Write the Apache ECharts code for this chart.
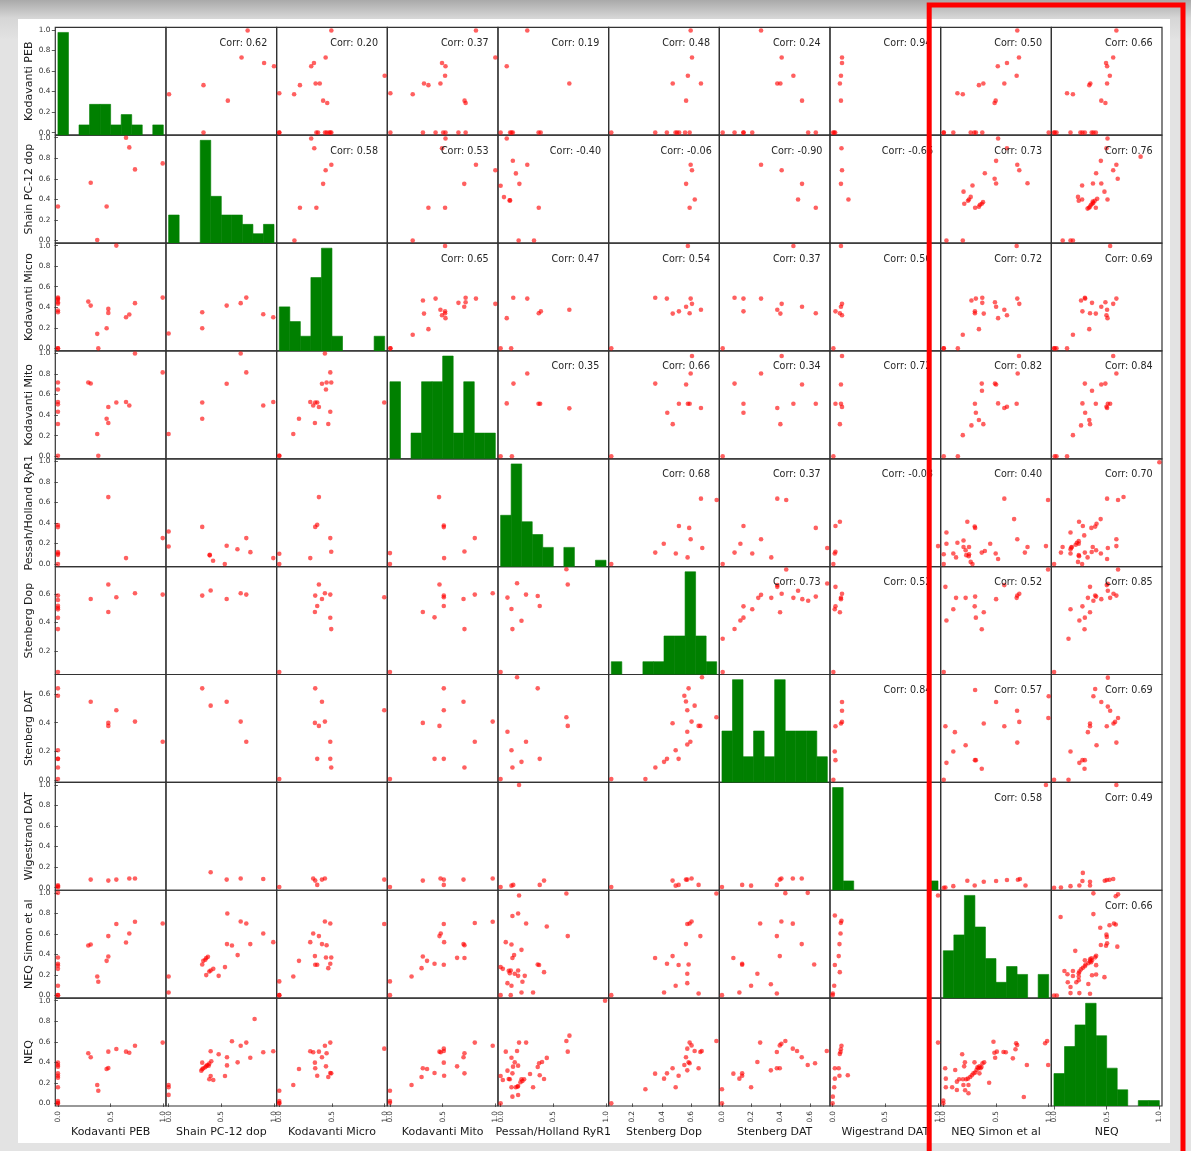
<!DOCTYPE html>
<html>
<head>
<meta charset="utf-8">
<script src="https://cdn.jsdelivr.net/npm/echarts@6/dist/echarts.min.js"></script>
<style>
  html, body { margin: 0; padding: 0; }
  body {
    width: 1191px; height: 1151px; overflow: hidden; position: relative;
    background: linear-gradient(to bottom, #a9a9a9 0px, #d6d6d6 18px, #e3e3e3 40px, #e3e3e3 100%);
  }
  #panel { position: absolute; left: 18px; top: 19px; width: 1152px; height: 1124px; background: #ffffff; }
  #chart { position: absolute; left: 0; top: 0; width: 1191px; height: 1151px; }
</style>
</head>
<body>
<div id="panel"></div>
<div id="chart"></div>
<script>
// ---- variables of the scatter matrix ----
const varNames = ['Kodavanti PEB', 'Shain PC-12 dop', 'Kodavanti Micro', 'Kodavanti Mito',
  'Pessah/Holland RyR1', 'Stenberg Dop', 'Stenberg DAT', 'Wigestrand DAT', 'NEQ Simon et al', 'NEQ'];
const varMin = [0, 0, 0, 0, 0, 0.055, 0, 0, 0, 0];
const varMax = [1, 1, 1, 1, 1, 0.772, 0.72, 1, 1, 1];

// tick labels
const ticksUnitY = [0, 0.2, 0.4, 0.6, 0.8, 1.0];
const ticksUnitX = [0, 0.5, 1.0];
const ticksStDop = [0.2, 0.4, 0.6];
const ticksStDat = [0, 0.2, 0.4, 0.6];

// histogram counts (10 equal bins between each variable's min and max)
const histPeb = [10, 0, 1, 3, 3, 1, 2, 1, 0, 1];
const histShain = [3, 0, 0, 11, 5, 3, 3, 2, 1, 2];
const histMicro = [3, 2, 1, 5, 7, 1, 0, 0, 0, 1];
const histMito = [3, 0, 1, 3, 3, 4, 1, 3, 1, 1];
const histPessah = [8, 16, 7, 5, 3, 0, 3, 0, 0, 1];
const histStDop = [1, 0, 0, 1, 1, 3, 3, 8, 3, 1];
const histStDat = [2, 4, 1, 2, 1, 4, 2, 2, 2, 1];
const histWige = [11, 1, 0, 0, 0, 0, 0, 0, 0, 1];
const histNeqS = [6, 8, 13, 9, 5, 2, 4, 3, 0, 3];
const histNeq = [6, 11, 15, 19, 13, 7, 3, 0, 1, 1];

// pairwise correlations, upper triangle, one array per row
const corrRow0 = [0.62, 0.20, 0.37, 0.19, 0.48, 0.24, 0.94, 0.50, 0.66];
const corrRow1 = [0.58, 0.53, -0.40, -0.06, -0.90, -0.66, 0.73, 0.76];
const corrRow2 = [0.65, 0.47, 0.54, 0.37, 0.56, 0.72, 0.69];
const corrRow3 = [0.35, 0.66, 0.34, 0.72, 0.82, 0.84];
const corrRow4 = [0.68, 0.37, -0.03, 0.40, 0.70];
const corrRow5 = [0.73, 0.52, 0.52, 0.85];
const corrRow6 = [0.84, 0.57, 0.69];
const corrRow7 = [0.58, 0.49];
const corrRow8 = [0.66];

// pairwise observations [first variable, second variable]
const pebShain = [[0.646,1.0],[0.677,0.906],[0.731,0.692],[0.994,0.75],[0.311,0.562],[0.462,0.331],[0,0.331],[0.373,0.004]];
const pebMicro = [[0,0.494],[0,0.484],[0,0.472],[0,0.449],[0,0.434],[0,0.368],[0,0.352],[0,0],[0,0],[0.288,0.455],[0.311,0.416],[0.373,0.141],[0.462,0.196],[0.478,0.384],[0.478,0.345],[0.383,0],[0.646,0.303],[0.677,0.329],[0.731,0.44],[0.994,0.494],[0.554,1.0]];
const pebMito = [[0,0.718],[0,0.65],[0,0.527],[0,0.505],[0,0.433],[0,0.313],[0,0.004],[0.288,0.718],[0.311,0.708],[0.462,0.365],[0.478,0.323],[0.478,0.479],[0.373,0.216],[0.383,0.004],[0.554,0.523],[0.646,0.527],[0.677,0.494],[0.731,1.0],[0.994,0.816]];
const pebPessah = [[0,0.38],[0,0.36],[0,0.116],[0,0.103],[0,0.09],[0,0],[0.478,0.652],[0.646,0.058],[0.994,0.253]];
const pebStDop = [[0,0.588],[0,0.557],[0,0.517],[0,0.503],[0,0.492],[0,0.433],[0,0.354],[0,0.055],[0.311,0.564],[0.478,0.665],[0.478,0.473],[0.554,0.576],[0.731,0.604],[0.994,0.595]];
const pebStDat = [[0,0.641],[0,0.589],[0,0.207],[0,0.147],[0,0.147],[0,0.086],[0,0.005],[0.311,0.547],[0.478,0.399],[0.478,0.378],[0.554,0.488],[0.731,0.408],[0.994,0.267]];
const pebWige = [[0,0.024],[0,0.014],[0,0.004],[0.311,0.079],[0.478,0.069],[0.554,0.079],[0.677,0.089],[0.731,0.089]];
const pebNeqS = [[0,1.0],[0,0.37],[0,0.309],[0,0.293],[0,0.26],[0,0.095],[0,0.004],[0,0.004],[0.288,0.487],[0.311,0.497],[0.373,0.185],[0.383,0.134],[0.462,0.338],[0.478,0.38],[0.478,0.579],[0.554,0.696],[0.646,0.517],[0.677,0.604],[0.731,0.718],[0.994,0.702]];
const pebNeq = [[0,0.397],[0,0.374],[0,0.358],[0,0.293],[0,0.27],[0,0.251],[0,0.157],[0,0.024],[0,0.007],[0,0.0],[0.288,0.488],[0.311,0.449],[0.373,0.18],[0.383,0.124],[0.462,0.335],[0.478,0.345],[0.478,0.504],[0.554,0.53],[0.646,0.504],[0.677,0.494],[0.731,0.562],[0.994,0.592]];

const shainMicro = [[0,0.144],[0.319,0.352],[0.319,0.196],[0.551,0.416],[0.684,0.44],[0.737,0.494],[0.898,0.332],[0.993,0.303]];
const shainMito = [[0,0.216],[0.319,0.523],[0.319,0.365],[0.551,0.705],[0.684,1.0],[0.737,0.816],[0.898,0.494],[0.993,0.527]];
const shainPessah = [[0,0.317],[0,0.171],[0.319,0.362],[0.39,0.09],[0.39,0.085],[0.422,0.032],[0.533,0.0],[0.551,0.178],[0.653,0.145],[0.737,0.253],[0.776,0.116],[0.993,0.058]];
const shainStDop = [[0.319,0.588],[0.399,0.623],[0.551,0.564],[0.684,0.604],[0.737,0.595]];
const shainStDat = [[0.319,0.641],[0.399,0.52],[0.551,0.547],[0.684,0.408],[0.737,0.267]];
const shainWige = [[0.399,0.15],[0.551,0.079],[0.684,0.089],[0.898,0.084]];
const shainNeqS = [[0,0.185],[0,0.03],[0.319,0.302],[0.329,0.338],[0.348,0.348],[0.357,0.365],[0.373,0.377],[0.357,0.199],[0.386,0.234],[0.399,0.244],[0.424,0.26],[0.475,0.192],[0.535,0.277],[0.554,0.501],[0.557,0.799],[0.601,0.487],[0.655,0.394],[0.684,0.721],[0.737,0.702],[0.775,0.501],[0.898,0.604],[0.993,0.52]];
const shainNeq = [[0,0.18],[0,0.157],[0,0.083],[0.319,0.397],[0.31,0.319],[0.319,0.332],[0.329,0.342],[0.348,0.352],[0.357,0.365],[0.367,0.374],[0.386,0.387],[0.38,0.368],[0.399,0.508],[0.405,0.41],[0.386,0.235],[0.399,0.267],[0.424,0.228],[0.475,0.479],[0.535,0.267],[0.554,0.449],[0.554,0.37],[0.601,0.605],[0.655,0.4],[0.684,0.562],[0.737,0.592],[0.775,0.445],[0.816,0.822],[0.898,0.498],[0.993,0.508]];

const microMito = [[0,0.004],[0,0.004],[0.133,0.216],[0.187,0.365],[0.294,0.527],[0.322,0.494],[0.341,0.523],[0.36,0.523],[0.376,0.479],[0.338,0.323],[0.405,0.705],[0.433,1.0],[0.443,0.65],[0.465,0.313],[0.484,0.816],[0.484,0.433],[0.493,0.718],[0.449,0.718],[0.996,0.523]];
const microPessah = [[0,0.1],[0,0.0],[0.294,0.058],[0.341,0.362],[0.36,0.382],[0.376,0.652],[0.484,0.253],[0.493,0.12]];
const microStDop = [[0,0.055],[0.341,0.588],[0.36,0.515],[0.338,0.473],[0.376,0.665],[0.405,0.564],[0.433,0.604],[0.484,0.595],[0.484,0.433],[0.493,0.354],[0.996,0.576]];
const microStDat = [[0,0.005],[0.341,0.641],[0.338,0.399],[0.376,0.378],[0.405,0.547],[0.433,0.408],[0.36,0.147],[0.484,0.267],[0.484,0.147],[0.493,0.086],[0.996,0.488]];
const microWige = [[0,0.007],[0.322,0.089],[0.341,0.069],[0.36,0.027],[0.405,0.079],[0.433,0.089],[0.996,0.079]];
const microNeqS = [[0,0.138],[0,0.004],[0,0.004],[0.133,0.185],[0.187,0.338],[0.294,0.52],[0.322,0.604],[0.338,0.384],[0.341,0.3],[0.36,0.3],[0.376,0.579],[0.405,0.501],[0.433,0.721],[0.443,0.37],[0.449,0.49],[0.465,0.267],[0.484,0.702],[0.484,0.309],[0.493,0.37],[0.996,0.696]];
const microNeq = [[0,0.124],[0,0.024],[0,0.007],[0,0.0],[0.133,0.18],[0.187,0.335],[0.294,0.508],[0.322,0.498],[0.338,0.397],[0.341,0.342],[0.36,0.27],[0.376,0.504],[0.405,0.449],[0.433,0.562],[0.443,0.361],[0.449,0.488],[0.465,0.257],[0.484,0.592],[0.484,0.296],[0.493,0.293],[0.996,0.533]];

const mitoPessah = [[0,0.107],[0,0.0],[0.466,0.652],[0.511,0.375],[0.511,0.36],[0.805,0.253],[0.707,0.122],[0.514,0.058]];
const mitoStDop = [[0,0.055],[0.312,0.473],[0.423,0.436],[0.47,0.665],[0.511,0.588],[0.511,0.576],[0.511,0.515],[0.698,0.564],[0.707,0.354],[0.805,0.595],[0.975,0.604]];
const mitoStDat = [[0,0.005],[0.312,0.399],[0.423,0.147],[0.47,0.378],[0.511,0.641],[0.511,0.488],[0.511,0.147],[0.698,0.547],[0.707,0.086],[0.805,0.267],[0.975,0.408]];
const mitoWige = [[0,0.007],[0.312,0.069],[0.48,0.089],[0.511,0.079],[0.511,0.027],[0.698,0.079],[0.975,0.089]];
const mitoNeqS = [[0,0.138],[0,0.004],[0.205,0.185],[0.3,0.267],[0.312,0.38],[0.352,0.338],[0.423,0.309],[0.47,0.579],[0.482,0.604],[0.511,0.696],[0.514,0.52],[0.511,0.3],[0.637,0.367],[0.698,0.501],[0.707,0.49],[0.707,0.365],[0.805,0.706],[0.975,0.718]];
const mitoNeq = [[0,0.124],[0,0.024],[0,0.007],[0.205,0.18],[0.3,0.257],[0.312,0.342],[0.352,0.335],[0.423,0.296],[0.47,0.504],[0.482,0.498],[0.511,0.533],[0.511,0.511],[0.511,0.397],[0.514,0.27],[0.637,0.361],[0.698,0.449],[0.707,0.488],[0.707,0.293],[0.805,0.592],[0.975,0.562]];

const pessahStDop = [[0,0.055],[0.065,0.574],[0.103,0.494],[0.112,0.354],[0.156,0.674],[0.198,0.412],[0.241,0.595],[0.352,0.585],[0.371,0.515],[0.637,0.665],[0.624,0.772]];
const pessahStDat = [[0,0.005],[0.065,0.337],[0.103,0.207],[0.112,0.086],[0.156,0.719],[0.198,0.126],[0.241,0.267],[0.352,0.641],[0.371,0.147],[0.624,0.439],[0.637,0.378]];
const pessahWige = [[0,0.007],[0.103,0.02],[0.12,0.027],[0.371,0.027],[0.412,0.069],[0.175,1.0]];
const pessahNeqS = [[0,0.277],[0,0.004],[0.021,0.26],[0.049,0.52],[0.065,0.121],[0.077,0.241],[0.087,0.218],[0.096,0.244],[0.103,0.497],[0.103,0.095],[0.096,0.004],[0.112,0.365],[0.112,0.774],[0.128,0.394],[0.134,0.212],[0.166,0.799],[0.166,0.244],[0.175,0.974],[0.166,0.192],[0.198,0.445],[0.207,0.134],[0.198,0.03],[0.229,0.192],[0.242,0.702],[0.308,0.03],[0.352,0.302],[0.365,0.298],[0.412,0.228],[0.438,0.672],[0.624,0.994],[0.637,0.579]];
const pessahNeq = [[0,0.267],[0,0.001],[0.021,0.228],[0.049,0.504],[0.065,0.319],[0.077,0.238],[0.087,0.235],[0.103,0.445],[0.112,0.293],[0.103,0.157],[0.112,0.066],[0.118,0.358],[0.134,0.4],[0.144,0.157],[0.16,0.163],[0.166,0.17],[0.166,0.082],[0.175,0.592],[0.156,0.511],[0.166,0.368],[0.188,0.206],[0.198,0.235],[0.207,0.218],[0.223,0.235],[0.242,0.592],[0.279,0.287],[0.308,0.157],[0.352,0.355],[0.365,0.391],[0.371,0.274],[0.412,0.238],[0.393,0.404],[0.438,0.443],[0.624,0.608],[0.637,0.504],[0.653,0.66],[0.991,1.0]];

const stDopStDat = [[0.055,0.005],[0.287,0.005],[0.355,0.086],[0.414,0.126],[0.434,0.147],[0.472,0.397],[0.493,0.207],[0.513,0.147],[0.552,0.589],[0.563,0.549],[0.572,0.488],[0.572,0.337],[0.572,0.248],[0.581,0.641],[0.593,0.267],[0.601,0.408],[0.622,0.52],[0.649,0.378],[0.661,0.378],[0.672,0.719],[0.77,0.439]];
const stDopWige = [[0.055,0.007],[0.472,0.069],[0.493,0.02],[0.513,0.027],[0.563,0.079],[0.572,0.079],[0.601,0.089],[0.649,0.027]];
const stDopNeqS = [[0.055,0.004],[0.353,0.365],[0.414,0.03],[0.434,0.309],[0.472,0.384],[0.493,0.095],[0.513,0.298],[0.563,0.501],[0.572,0.696],[0.572,0.212],[0.572,0.121],[0.581,0.302],[0.588,0.702],[0.601,0.721],[0.649,0.02],[0.661,0.579],[0.77,0.994]];
const stDopNeq = [[0.055,0.001],[0.287,0.138],[0.353,0.29],[0.414,0.241],[0.434,0.293],[0.472,0.342],[0.493,0.157],[0.513,0.27],[0.552,0.374],[0.563,0.449],[0.572,0.533],[0.572,0.322],[0.581,0.4],[0.588,0.391],[0.588,0.592],[0.601,0.565],[0.622,0.511],[0.649,0.342],[0.661,0.501],[0.67,0.511],[0.77,0.608]];

const stDatWige = [[0,0.007],[0.138,0.027],[0.199,0.02],[0.375,0.027],[0.395,0.079],[0.406,0.089],[0.484,0.089],[0.545,0.089]];
const stDatNeqS = [[0,0.004],[0.078,0.365],[0.119,0.03],[0.138,0.309],[0.138,0.3],[0.199,0.095],[0.242,0.212],[0.261,0.702],[0.334,0.11],[0.375,0.579],[0.375,0.02],[0.395,0.384],[0.406,0.721],[0.433,0.997],[0.484,0.7],[0.545,0.501],[0.586,1.0],[0.63,0.302]];
const stDatNeq = [[0,0.138],[0,0.001],[0.078,0.29],[0.119,0.241],[0.138,0.293],[0.138,0.27],[0.199,0.157],[0.242,0.404],[0.261,0.592],[0.334,0.322],[0.375,0.501],[0.375,0.342],[0.395,0.342],[0.395,0.565],[0.406,0.58],[0.433,0.608],[0.484,0.533],[0.513,0.511],[0.545,0.449],[0.586,0.374],[0.636,0.391],[0.716,0.511]];

const wigeNeqS = [[0,0.004],[0.002,0.02],[0.015,0.095],[0.021,0.298],[0.021,0.78],[0.058,0.384],[0.065,0.501],[0.075,0.604],[0.078,0.708],[0.084,0.727],[0.068,0.228],[1.0,0.974]];
const wigeNeq = [[0,0.001],[0.002,0.066],[0.015,0.157],[0.021,0.241],[0.021,0.342],[0.058,0.342],[0.065,0.27],[0.075,0.501],[0.078,0.527],[0.084,0.562],[0.068,0.482],[0.144,0.274],[1.0,0.592]];

const neqSNeq = [[0,0.027],[0,0.001],[0.018,0.342],[0.024,0.241],[0.024,0.157],[0.084,0.157],[0.113,0.326],[0.129,0.212],[0.129,0.131],[0.15,0.235],[0.179,0.479],[0.191,0.18],[0.198,0.361],[0.207,0.128],[0.217,0.235],[0.233,0.241],[0.239,0.18],[0.239,0.099],[0.186,0.235],[0.205,0.4],[0.255,0.257],[0.271,0.274],[0.286,0.293],[0.296,0.4],[0.302,0.3],[0.315,0.326],[0.324,0.352],[0.334,0.342],[0.343,0.361],[0.353,0.342],[0.362,0.355],[0.372,0.391],[0.388,0.4],[0.343,0.293],[0.435,0.202],[0.476,0.601],[0.485,0.494],[0.492,0.445],[0.508,0.504],[0.571,0.501],[0.593,0.498],[0.66,0.439],[0.685,0.527],[0.691,0.586],[0.701,0.569],[0.764,0.063],[0.793,0.374],[0.966,0.586],[0.985,0.608],[0.995,0.374]];

// ---- lookup tables built from the arrays above ----
const hists = [histPeb, histShain, histMicro, histMito, histPessah, histStDop, histStDat, histWige, histNeqS, histNeq];
const corrRows = [corrRow0, corrRow1, corrRow2, corrRow3, corrRow4, corrRow5, corrRow6, corrRow7, corrRow8];
const pairTable = {
  '0-1': pebShain, '0-2': pebMicro, '0-3': pebMito, '0-4': pebPessah, '0-5': pebStDop, '0-6': pebStDat, '0-7': pebWige, '0-8': pebNeqS, '0-9': pebNeq,
  '1-2': shainMicro, '1-3': shainMito, '1-4': shainPessah, '1-5': shainStDop, '1-6': shainStDat, '1-7': shainWige, '1-8': shainNeqS, '1-9': shainNeq,
  '2-3': microMito, '2-4': microPessah, '2-5': microStDop, '2-6': microStDat, '2-7': microWige, '2-8': microNeqS, '2-9': microNeq,
  '3-4': mitoPessah, '3-5': mitoStDop, '3-6': mitoStDat, '3-7': mitoWige, '3-8': mitoNeqS, '3-9': mitoNeq,
  '4-5': pessahStDop, '4-6': pessahStDat, '4-7': pessahWige, '4-8': pessahNeqS, '4-9': pessahNeq,
  '5-6': stDopStDat, '5-7': stDopWige, '5-8': stDopNeqS, '5-9': stDopNeq,
  '6-7': stDatWige, '6-8': stDatNeqS, '6-9': stDatNeq,
  '7-8': wigeNeqS, '7-9': wigeNeq,
  '8-9': neqSNeq
};

// ---- layout ----
const N = varNames.length;
const LEFT0 = 55.3, TOP0 = 27.3, CELL_W = 110.67, CELL_H = 107.87;
const FONT = '"DejaVu Sans", "Liberation Sans", sans-serif';

function paddedRange(k) {
  const d = (varMax[k] - varMin[k]) * 0.025;
  return [varMin[k] - d, varMax[k] + d];
}
function yTicksFor(k) { return k === 5 ? ticksStDop : (k === 6 ? ticksStDat : ticksUnitY); }
function xTicksFor(k) { return k === 5 ? ticksStDop : (k === 6 ? ticksStDat : ticksUnitX); }
const fmt = v => v.toFixed(1);

const grids = [], xAxes = [], yAxes = [], series = [], graphics = [];

function valueYAxis(gridIndex, k, withLabels) {
  const r = paddedRange(k);
  return {
    type: 'value', gridIndex, position: 'left', min: r[0], max: r[1],
    axisLine: { show: false }, splitLine: { show: false },
    axisTick: { show: withLabels, length: 3.5, lineStyle: { color: '#333', width: 0.8 }, customValues: yTicksFor(k) },
    axisLabel: { show: withLabels, customValues: yTicksFor(k), formatter: fmt, margin: 5,
      fontSize: 7.3, color: '#333', fontFamily: FONT },
    name: withLabels ? varNames[k] : '', nameLocation: 'middle', nameGap: 20, nameRotate: 90,
    nameTextStyle: { fontSize: 11, color: '#1a1a1a', fontFamily: FONT }
  };
}

for (let i = 0; i < N; i++) {
  for (let j = 0; j < N; j++) {
    const g = i * N + j;
    grids.push({
      left: LEFT0 + j * CELL_W, top: TOP0 + i * CELL_H, width: CELL_W, height: CELL_H,
      show: true, borderColor: '#333333', borderWidth: 1.2, backgroundColor: 'transparent'
    });
    const xr = paddedRange(j);
    const bottom = i === N - 1;
    xAxes.push({
      type: 'value', gridIndex: g, min: xr[0], max: xr[1],
      axisLine: { show: false }, splitLine: { show: false },
      axisTick: { show: bottom, length: 3.5, lineStyle: { color: '#333', width: 0.8 }, customValues: xTicksFor(j) },
      axisLabel: { show: bottom, customValues: xTicksFor(j), formatter: fmt, rotate: 90, margin: 5,
        fontSize: 7.3, color: '#333', fontFamily: FONT },
      name: bottom ? varNames[j] : '', nameLocation: 'middle', nameGap: 18,
      nameTextStyle: { fontSize: 11, color: '#1a1a1a', fontFamily: FONT }
    });

    if (i === j) {
      // histogram on the diagonal
      const counts = hists[i];
      const maxCount = Math.max.apply(null, counts);
      yAxes.push({ type: 'value', gridIndex: g, min: 0, max: maxCount * 1.05, show: false });
      const w = (varMax[i] - varMin[i]) / counts.length;
      const bars = [];
      counts.forEach((c, b) => { if (c > 0) bars.push([varMin[i] + b * w, varMin[i] + (b + 1) * w, c]); });
      series.push({
        type: 'custom', xAxisIndex: g, yAxisIndex: g, data: bars, encode: { x: [0, 1], y: 2 },
        silent: true, clip: true,
        renderItem: (params, api) => {
          const p0 = api.coord([api.value(0), api.value(2)]);
          const p1 = api.coord([api.value(1), 0]);
          return { type: 'rect', shape: { x: p0[0], y: p0[1], width: p1[0] - p0[0], height: p1[1] - p0[1] },
            style: { fill: '#008000', stroke: '#008000', lineWidth: 0.6 } };
        }
      });
    } else {
      yAxes.push(valueYAxis(g, i, j === 0));
      const a = Math.min(i, j), b = Math.max(i, j);
      const pts = pairTable[a + '-' + b];
      // cell (row i, col j): x is variable j, y is variable i
      const data = j < i ? pts.map(p => [p[0], p[1]]) : pts.map(p => [p[1], p[0]]);
      series.push({
        type: 'scatter', xAxisIndex: g, yAxisIndex: g, data, symbolSize: 4.6, clip: true,
        itemStyle: { color: 'rgba(255,0,0,0.78)' }, silent: true
      });
      if (j > i) {
        const r = corrRows[i][j - i - 1];
        graphics.push({
          type: 'text', z: 50,
          x: LEFT0 + j * CELL_W + 0.7 * CELL_W, y: TOP0 + i * CELL_H + 0.149 * CELL_H,
          style: { text: 'Corr: ' + r.toFixed(2), fill: '#262626', font: '9.6px ' + FONT,
            align: 'center', verticalAlign: 'middle' }
        });
      }
    }
  }
}
// value scale for the first row, shown beside the top-left histogram
yAxes.push(valueYAxis(0, 0, true));

// red highlight frame around the last two columns
graphics.push({
  type: 'rect', z: 100, silent: true,
  shape: { x: 929.2, y: 5, width: 253.8, height: 1200 },
  style: { fill: 'none', stroke: '#ff0000', lineWidth: 5 }
});

const chart = echarts.init(document.getElementById('chart'), null, { renderer: 'canvas' });
chart.setOption({
  animation: false,
  backgroundColor: 'transparent',
  grid: grids, xAxis: xAxes, yAxis: yAxes, series,
  graphic: { elements: graphics }
});
</script>
</body>
</html>
